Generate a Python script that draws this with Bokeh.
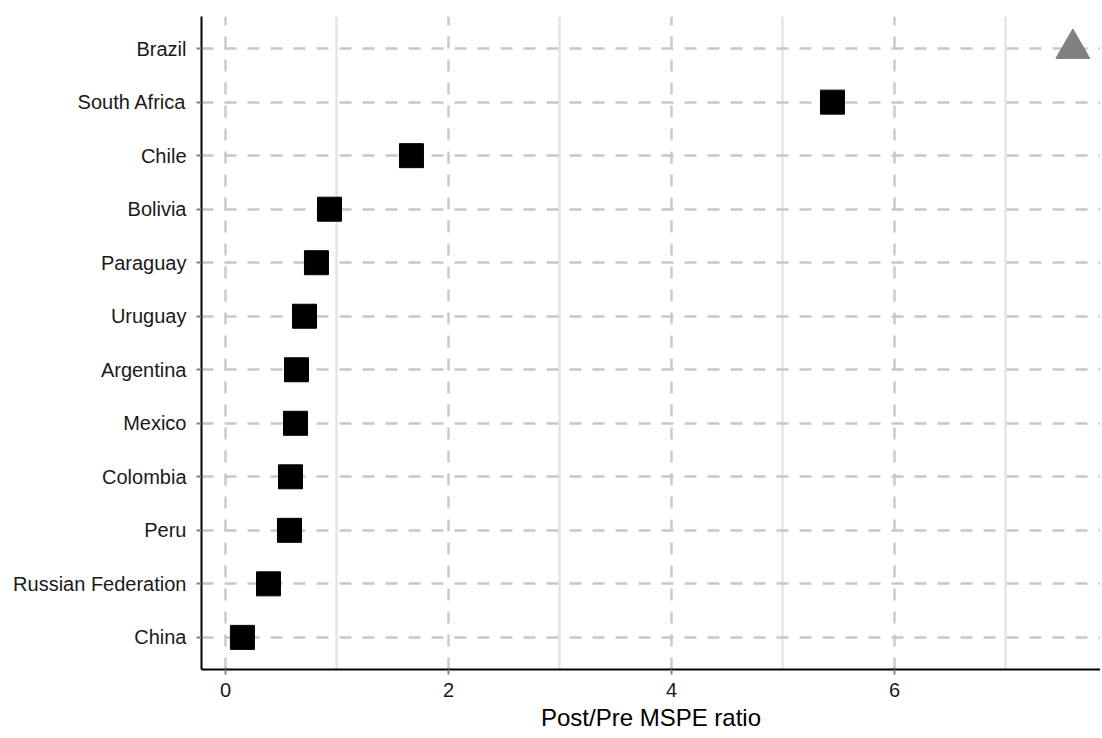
from bokeh.plotting import figure
from bokeh.models import FactorRange, Range1d, FixedTicker
from bokeh.embed import file_html
from bokeh.resources import INLINE

countries = ["China", "Russian Federation", "Peru", "Colombia", "Mexico", "Argentina",
             "Uruguay", "Paraguay", "Bolivia", "Chile", "South Africa"]
ratios = [0.152, 0.386, 0.574, 0.583, 0.628, 0.637, 0.709, 0.816, 0.933, 1.668, 5.444]
treated = ["Brazil"]
treated_ratio = [7.60]
factors = countries + treated

major_ticks = [0, 2, 4, 6]
minor_ticks = [1, 3, 5, 7]

p = figure(width=1100, height=736, output_backend="svg", toolbar_location=None,
           y_range=FactorRange(*factors, range_padding=0.1, range_padding_units="absolute"),
           x_range=Range1d(-0.215, 7.848),
           min_border_left=201, min_border_right=0, min_border_top=16, min_border_bottom=67)
p.outline_line_color = None
p.background_fill_color = "white"

p.scatter(ratios, countries, marker="square", size=24, color="black")
p.scatter(treated_ratio, treated, marker="triangle", size=34, color="#808080")

p.xaxis.ticker = FixedTicker(ticks=major_ticks, minor_ticks=minor_ticks)
p.xaxis.axis_label = "Post/Pre MSPE ratio"
p.xaxis.axis_label_text_font = "Liberation Sans"
p.xaxis.axis_label_text_font_size = "24px"
p.xaxis.axis_label_text_font_style = "normal"
p.xaxis.axis_label_text_color = "black"
p.xaxis.axis_label_standoff = 4

for ax in (p.xaxis, p.yaxis):
    ax.axis_line_color = "black"
    ax.axis_line_width = 2
    ax.major_tick_line_color = "#808080"
    ax.major_tick_line_width = 2
    ax.major_tick_out = 5
    ax.major_tick_in = 0
    ax.minor_tick_line_color = None
    ax.major_label_text_font = "Liberation Sans"
    ax.major_label_text_font_size = "20px"
    ax.major_label_text_color = "#1a1a1a"
p.xaxis.major_label_standoff = 8
p.yaxis.major_label_standoff = 10

p.xgrid.grid_line_color = "#c8c8c8"
p.xgrid.grid_line_width = 2.4
p.xgrid.grid_line_dash = "12 11"
p.xgrid.minor_grid_line_color = "#e3e3e3"
p.xgrid.minor_grid_line_width = 2.3
p.ygrid.grid_line_color = "#c8c8c8"
p.ygrid.grid_line_width = 2.4
p.ygrid.grid_line_dash = "12 11"

open("out.html", "w").write(file_html(p, INLINE))
